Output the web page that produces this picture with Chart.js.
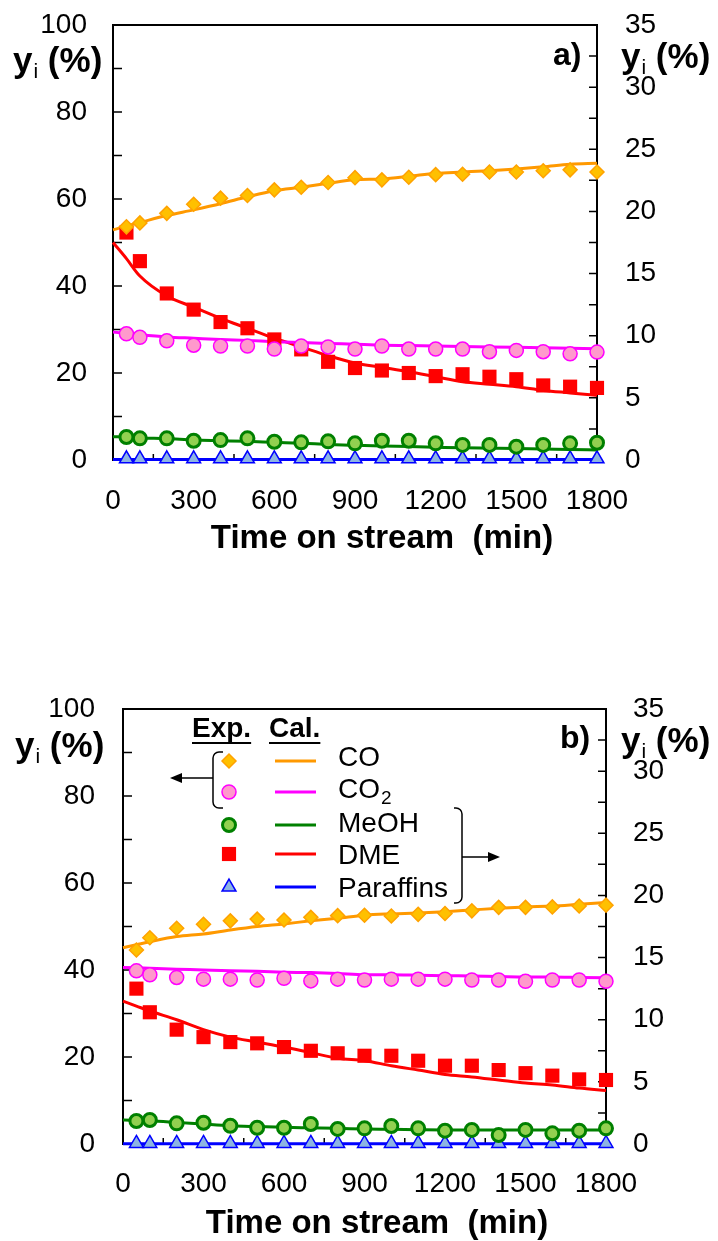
<!DOCTYPE html>
<html>
<head>
<meta charset="utf-8">
<script src="https://cdn.jsdelivr.net/npm/chart.js@4.4.1/dist/chart.umd.min.js"></script>
<style>
  body { margin: 0; background: #fff; }
  #wrap { position: relative; width: 718px; height: 1241px; }
  canvas { position: absolute; left: 0; }
</style>
</head>
<body>
<div id="wrap">
  <canvas id="chartA" width="718" height="620" style="top:0px"></canvas>
  <canvas id="chartB" width="718" height="621" style="top:620px"></canvas>
</div>
<script>
// time on stream (min)
const expTime = [50, 100, 200, 300, 400, 500, 600, 700, 800, 900, 1000, 1100, 1200, 1300, 1400, 1500, 1600, 1700, 1800];
const calTime = [0, 50, 100, 200, 300, 400, 500, 600, 700, 800, 900, 1000, 1100, 1200, 1300, 1400, 1500, 1600, 1700, 1800];

// axis ranges
const xMax = 1800, xStep = 300, xMinor = 150;
const yMax = 100, yStep = 20, yMinor = 10;
const y2Max = 35, y2Step = 5, y2Minor = 2.5;

// ---- chart a) ----  CO, CO2 on left axis; MeOH, DME, paraffins on right axis
const coExpA   = [53.6, 54.5, 56.7, 58.8, 60.2, 60.8, 62.1, 62.7, 63.8, 64.9, 64.4, 65.0, 65.6, 65.7, 66.2, 66.2, 66.5, 66.7, 66.2];
const co2ExpA  = [29.0, 28.2, 27.4, 26.4, 26.2, 26.2, 25.5, 26.2, 26.0, 25.5, 26.2, 25.5, 25.5, 25.5, 24.9, 25.2, 24.9, 24.4, 24.8];
const meohExpA = [1.85, 1.74, 1.74, 1.55, 1.6, 1.74, 1.47, 1.42, 1.5, 1.34, 1.55, 1.55, 1.34, 1.21, 1.21, 1.07, 1.21, 1.34, 1.39];
const dmeExpA  = [18.3, 16.0, 13.4, 12.1, 11.1, 10.6, 9.7, 8.9, 7.9, 7.4, 7.2, 7.0, 6.75, 6.9, 6.7, 6.5, 6.0, 5.9, 5.8];
const parExpA  = [0.1, 0.1, 0.1, 0.1, 0.1, 0.1, 0.1, 0.1, 0.1, 0.1, 0.1, 0.1, 0.1, 0.1, 0.1, 0.1, 0.1, 0.1, 0.1];

const coCalA   = [52.9, 53.8, 54.6, 56.2, 57.5, 58.9, 60.5, 61.9, 62.7, 63.6, 64.4, 64.6, 65.2, 65.9, 66.2, 66.5, 66.9, 67.4, 68.0, 68.2];
const co2CalA  = [29.4, 29.1, 28.8, 28.3, 28.0, 27.7, 27.5, 27.2, 27.0, 26.8, 26.6, 26.4, 26.3, 26.2, 26.1, 26.0, 25.9, 25.8, 25.7, 25.6];
const meohCalA = [1.87, 1.85, 1.78, 1.72, 1.6, 1.55, 1.5, 1.42, 1.35, 1.25, 1.18, 1.12, 1.08, 1.03, 0.98, 0.95, 0.92, 0.88, 0.85, 0.8];
const dmeCalA  = [17.5, 16.2, 14.8, 13.2, 12.3, 11.4, 10.6, 9.8, 9.1, 8.4, 7.8, 7.45, 7.1, 6.7, 6.3, 6.1, 5.9, 5.6, 5.4, 5.2];
const parCalA  = [0.05, 0.05, 0.05, 0.05, 0.05, 0.05, 0.05, 0.05, 0.05, 0.05, 0.05, 0.05, 0.05, 0.05, 0.05, 0.05, 0.05, 0.05, 0.05, 0.05];

// ---- chart b) ----
const coExpB   = [44.6, 47.4, 49.6, 50.5, 51.3, 51.7, 51.5, 52.1, 52.5, 52.6, 52.4, 52.8, 53.0, 53.6, 54.4, 54.4, 54.5, 54.7, 54.9];
const co2ExpB  = [39.8, 38.9, 38.3, 37.9, 37.9, 37.7, 38.1, 37.5, 37.9, 37.7, 37.9, 37.9, 37.9, 37.7, 37.7, 37.4, 37.7, 37.7, 37.4];
const meohExpB = [1.85, 1.93, 1.66, 1.71, 1.47, 1.31, 1.31, 1.61, 1.21, 1.26, 1.45, 1.26, 1.07, 1.13, 0.72, 1.13, 0.86, 1.07, 1.26];
const dmeExpB  = [12.5, 10.6, 9.2, 8.6, 8.2, 8.1, 7.8, 7.5, 7.3, 7.1, 7.1, 6.7, 6.3, 6.3, 5.95, 5.7, 5.5, 5.2, 5.15];
const parExpB  = [0.05, 0.05, 0.05, 0.05, 0.05, 0.05, 0.05, 0.05, 0.05, 0.05, 0.05, 0.05, 0.05, 0.05, 0.05, 0.05, 0.05, 0.05, 0.05];

const coCalB   = [45.1, 45.8, 46.5, 47.7, 48.3, 49.2, 50.0, 50.6, 51.3, 51.9, 52.6, 52.9, 53.1, 53.4, 53.8, 54.2, 54.5, 54.7, 55.1, 55.5];
const co2CalB  = [40.6, 40.5, 40.4, 40.2, 40.0, 39.8, 39.7, 39.5, 39.4, 39.2, 38.9, 38.9, 38.8, 38.7, 38.6, 38.5, 38.4, 38.4, 38.3, 38.2];
const meohCalB = [1.93, 1.9, 1.87, 1.74, 1.6, 1.47, 1.4, 1.34, 1.3, 1.26, 1.2, 1.18, 1.15, 1.13, 1.13, 1.13, 1.12, 1.12, 1.12, 1.12];
const dmeCalB  = [11.5, 11.1, 10.7, 10.0, 9.2, 8.6, 8.2, 7.8, 7.35, 6.9, 6.7, 6.3, 5.95, 5.6, 5.4, 5.15, 4.9, 4.75, 4.5, 4.3];
const parCalB  = [0.02, 0.02, 0.02, 0.02, 0.02, 0.02, 0.02, 0.02, 0.02, 0.02, 0.02, 0.02, 0.02, 0.02, 0.02, 0.02, 0.02, 0.02, 0.02, 0.02];

const FONT = '"Liberation Sans", Arial, Helvetica, sans-serif';
Chart.defaults.font.family = FONT;
Chart.defaults.color = '#000';

// marker / line look of each species
const species = [
  { name: 'CO',        axis: 'y',  line: '#FF9900', style: 'rectRot',  r: 7,   fill: '#FFC000', edge: '#FFA200', bw: 1.5 },
  { name: 'CO2',       axis: 'y',  line: '#FF00FF', style: 'circle',   r: 7,   fill: '#FF99CC', edge: '#FF00FF', bw: 1.5 },
  { name: 'MeOH',      axis: 'y2', line: '#008000', style: 'circle',   r: 6.5, fill: '#92D050', edge: '#008000', bw: 3 },
  { name: 'DME',       axis: 'y2', line: '#FF0000', style: 'rect',     r: 10,  fill: '#FF0000', edge: '#FF0000', bw: 0 },
  { name: 'Paraffins', axis: 'y2', line: '#0000FF', style: 'triangle', r: 8,   fill: '#8DB4E2', edge: '#0000FF', bw: 1.5 }
];

function pts(xs, ys) {
  return xs.map((x, i) => ({ x: x, y: ys[i] }));
}

function buildSets(exp, cal) {
  const sets = [];
  // experimental markers first so they sit on top of the lines
  species.forEach((s, i) => {
    sets.push({
      label: s.name + ' exp', data: pts(expTime, exp[i]), yAxisID: s.axis,
      showLine: false, pointStyle: s.style, pointRadius: s.r,
      backgroundColor: s.fill, borderColor: s.edge, borderWidth: s.bw, clip: false
    });
  });
  species.forEach((s, i) => {
    sets.push({
      label: s.name + ' cal', data: pts(calTime, cal[i]), yAxisID: s.axis,
      borderColor: s.line, borderWidth: 3, pointRadius: 0,
      cubicInterpolationMode: 'monotone', clip: false
    });
  });
  return sets;
}

function yiLabel(ctx, x, base) {
  ctx.textAlign = 'left';
  ctx.textBaseline = 'alphabetic';
  ctx.font = 'bold 35px ' + FONT;
  ctx.fillText('y', x, base);
  let w = ctx.measureText('y').width;
  ctx.font = '21px ' + FONT;
  ctx.fillText('i', x + w + 1, base + 6);
  w += 1 + ctx.measureText('i').width;
  ctx.font = 'bold 35px ' + FONT;
  ctx.fillText(' (%)', x + w, base);
}

function drawLegend(chart, lg) {
  const ctx = chart.ctx;
  const sets = chart.data.datasets;
  ctx.fillStyle = '#000';
  ctx.strokeStyle = '#000';
  ctx.textAlign = 'left';
  ctx.textBaseline = 'alphabetic';
  ctx.font = 'bold 28px ' + FONT;
  [['Exp.', lg.expX], ['Cal.', lg.calX]].forEach(([t, x]) => {
    ctx.fillText(t, x, lg.headBase);
    const w = ctx.measureText(t).width;
    ctx.lineWidth = 2;
    ctx.beginPath();
    ctx.moveTo(x, lg.headBase + 6);
    ctx.lineTo(x + w, lg.headBase + 6);
    ctx.stroke();
  });

  species.forEach((s, i) => {
    const y = lg.rows[i];
    const ds = sets[i];
    ctx.save();
    ctx.fillStyle = ds.backgroundColor;
    ctx.strokeStyle = ds.borderColor;
    ctx.lineWidth = ds.borderWidth;
    Chart.helpers.drawPoint(ctx, { pointStyle: ds.pointStyle, radius: ds.pointRadius, rotation: 0, borderWidth: ds.borderWidth }, lg.markX, y);
    ctx.restore();

    ctx.strokeStyle = sets[i + species.length].borderColor;
    ctx.lineWidth = 3;
    ctx.beginPath();
    ctx.moveTo(lg.lineX0, y);
    ctx.lineTo(lg.lineX1, y);
    ctx.stroke();

    ctx.fillStyle = '#000';
    ctx.font = '28px ' + FONT;
    const base = lg.textBase[i];
    if (s.name === 'CO2') {
      ctx.fillText('CO', lg.textX, base);
      const w = ctx.measureText('CO').width;
      ctx.font = '19px ' + FONT;
      ctx.fillText('2', lg.textX + w + 1, base + 6);
    } else {
      ctx.fillText(s.name, lg.textX, base);
    }
  });

  // braces and arrows
  ctx.strokeStyle = '#000';
  ctx.fillStyle = '#000';
  ctx.lineWidth = 1.5;
  const b1 = lg.braceL;
  ctx.beginPath();
  ctx.moveTo(b1.x + 10, b1.y0);
  ctx.arcTo(b1.x, b1.y0, b1.x, b1.y0 + 8, 6);
  ctx.lineTo(b1.x, b1.y1 - 8);
  ctx.arcTo(b1.x, b1.y1, b1.x + 10, b1.y1, 6);
  ctx.lineTo(b1.x + 10, b1.y1);
  ctx.moveTo(b1.x, b1.ya);
  ctx.lineTo(b1.xa + 10, b1.ya);
  ctx.stroke();
  ctx.beginPath();
  ctx.moveTo(b1.xa, b1.ya);
  ctx.lineTo(b1.xa + 12, b1.ya - 5);
  ctx.lineTo(b1.xa + 12, b1.ya + 5);
  ctx.closePath();
  ctx.fill();

  const b2 = lg.braceR;
  ctx.beginPath();
  ctx.moveTo(b2.x - 8, b2.y0);
  ctx.arcTo(b2.x, b2.y0, b2.x, b2.y0 + 8, 6);
  ctx.lineTo(b2.x, b2.y1 - 8);
  ctx.arcTo(b2.x, b2.y1, b2.x - 8, b2.y1, 6);
  ctx.lineTo(b2.x - 8, b2.y1);
  ctx.moveTo(b2.x, b2.ya);
  ctx.lineTo(b2.xa - 10, b2.ya);
  ctx.stroke();
  ctx.beginPath();
  ctx.moveTo(b2.xa, b2.ya);
  ctx.lineTo(b2.xa - 12, b2.ya - 5);
  ctx.lineTo(b2.xa - 12, b2.ya + 5);
  ctx.closePath();
  ctx.fill();
}

const decoPlugin = {
  id: 'deco',
  beforeDatasetsDraw(chart, args, o) {
    const { ctx, chartArea: a, scales } = chart;
    ctx.save();
    ctx.strokeStyle = '#000';
    ctx.lineWidth = 1.5;
    ctx.beginPath();
    for (let v = 0; v <= xMax; v += xMinor) {
      const p = scales.x.getPixelForValue(v);
      ctx.moveTo(p, a.bottom);
      ctx.lineTo(p, a.bottom - 6);
    }
    for (let v = 0; v <= yMax; v += yMinor) {
      const p = scales.y.getPixelForValue(v);
      ctx.moveTo(a.left, p);
      ctx.lineTo(a.left + 9, p);
    }
    for (let v = 0; v <= y2Max; v += y2Minor) {
      const p = scales.y2.getPixelForValue(v);
      ctx.moveTo(a.right, p);
      ctx.lineTo(a.right - 8, p);
    }
    ctx.stroke();
    ctx.lineWidth = 2;
    ctx.beginPath();
    ctx.moveTo(a.left - 1, a.top);
    ctx.lineTo(a.right + 1, a.top);
    ctx.stroke();
    ctx.restore();
  },
  afterDraw(chart, args, o) {
    const ctx = chart.ctx;
    ctx.save();
    ctx.fillStyle = '#000';
    yiLabel(ctx, o.yiLeft[0], o.yiLeft[1]);
    yiLabel(ctx, o.yiRight[0], o.yiRight[1]);
    ctx.font = 'bold 32px ' + FONT;
    ctx.textAlign = 'left';
    ctx.fillText(o.tag, o.tagPos[0], o.tagPos[1]);
    ctx.font = 'bold 33px ' + FONT;
    ctx.textAlign = 'center';
    ctx.fillText('Time on stream  (min)', o.xTitle[0], o.xTitle[1]);
    if (o.legend) drawLegend(chart, o.legend);
    ctx.restore();
  }
};

function noPad(s) {
  s.paddingTop = 0; s.paddingBottom = 0; s.paddingLeft = 0; s.paddingRight = 0;
}

function makeChart(id, exp, cal, L, deco) {
  const h = document.getElementById(id).height;
  const plain = v => String(v);
  return new Chart(document.getElementById(id), {
    type: 'line',
    data: { datasets: buildSets(exp, cal) },
    plugins: [decoPlugin],
    options: {
      responsive: false,
      animation: false,
      events: [],
      layout: { autoPadding: false, padding: { top: L.top, bottom: 0, left: 0, right: 0 } },
      plugins: { legend: { display: false }, tooltip: { enabled: false }, deco: deco },
      scales: {
        x: {
          type: 'linear', min: 0, max: xMax,
          grid: { display: false, drawTicks: false },
          border: { color: '#000', width: 2 },
          ticks: { stepSize: xStep, font: { size: 28 }, color: '#000', padding: L.xPad, maxRotation: 0, autoSkip: false, callback: plain },
          afterFit(s) { s.height = h - L.bottom; noPad(s); }
        },
        y: {
          position: 'left', min: 0, max: yMax,
          grid: { display: false, drawTicks: false },
          border: { color: '#000', width: 2 },
          ticks: { stepSize: yStep, font: { size: 28 }, color: '#000', padding: L.yPad, callback: plain },
          afterFit(s) { s.width = L.left; noPad(s); }
        },
        y2: {
          position: 'right', min: 0, max: y2Max,
          grid: { display: false, drawTicks: false },
          border: { color: '#000', width: 2 },
          ticks: { stepSize: y2Step, font: { size: 28 }, color: '#000', padding: L.y2Pad, callback: plain },
          afterFit(s) { s.width = 718 - L.right; noPad(s); }
        }
      }
    }
  });
}

makeChart('chartA',
  [coExpA, co2ExpA, meohExpA, dmeExpA, parExpA],
  [coCalA, co2CalA, meohCalA, dmeCalA, parCalA],
  { top: 25, bottom: 460, left: 113, right: 597, xPad: 24, yPad: 26, y2Pad: 28 },
  { yiLeft: [13, 72], yiRight: [621, 68], tag: 'a)', tagPos: [553, 65], xTitle: [382, 548] }
);

makeChart('chartB',
  [coExpB, co2ExpB, meohExpB, dmeExpB, parExpB],
  [coCalB, co2CalB, meohCalB, dmeCalB, parCalB],
  { top: 89, bottom: 524, left: 123, right: 606, xPad: 23, yPad: 28, y2Pad: 27 },
  {
    yiLeft: [15, 137], yiRight: [621, 132], tag: 'b)', tagPos: [560, 128], xTitle: [377, 613],
    legend: {
      expX: 192, calX: 269, headBase: 117,
      markX: 229, rows: [141, 172, 205, 234, 267],
      lineX0: 275, lineX1: 316,
      textX: 338, textBase: [146, 178, 212, 244, 277],
      braceL: { x: 213, y0: 132, y1: 188, ya: 158, xa: 170 },
      braceR: { x: 462, y0: 188, y1: 283, ya: 237, xa: 500 }
    }
  }
);
</script>
</body>
</html>
